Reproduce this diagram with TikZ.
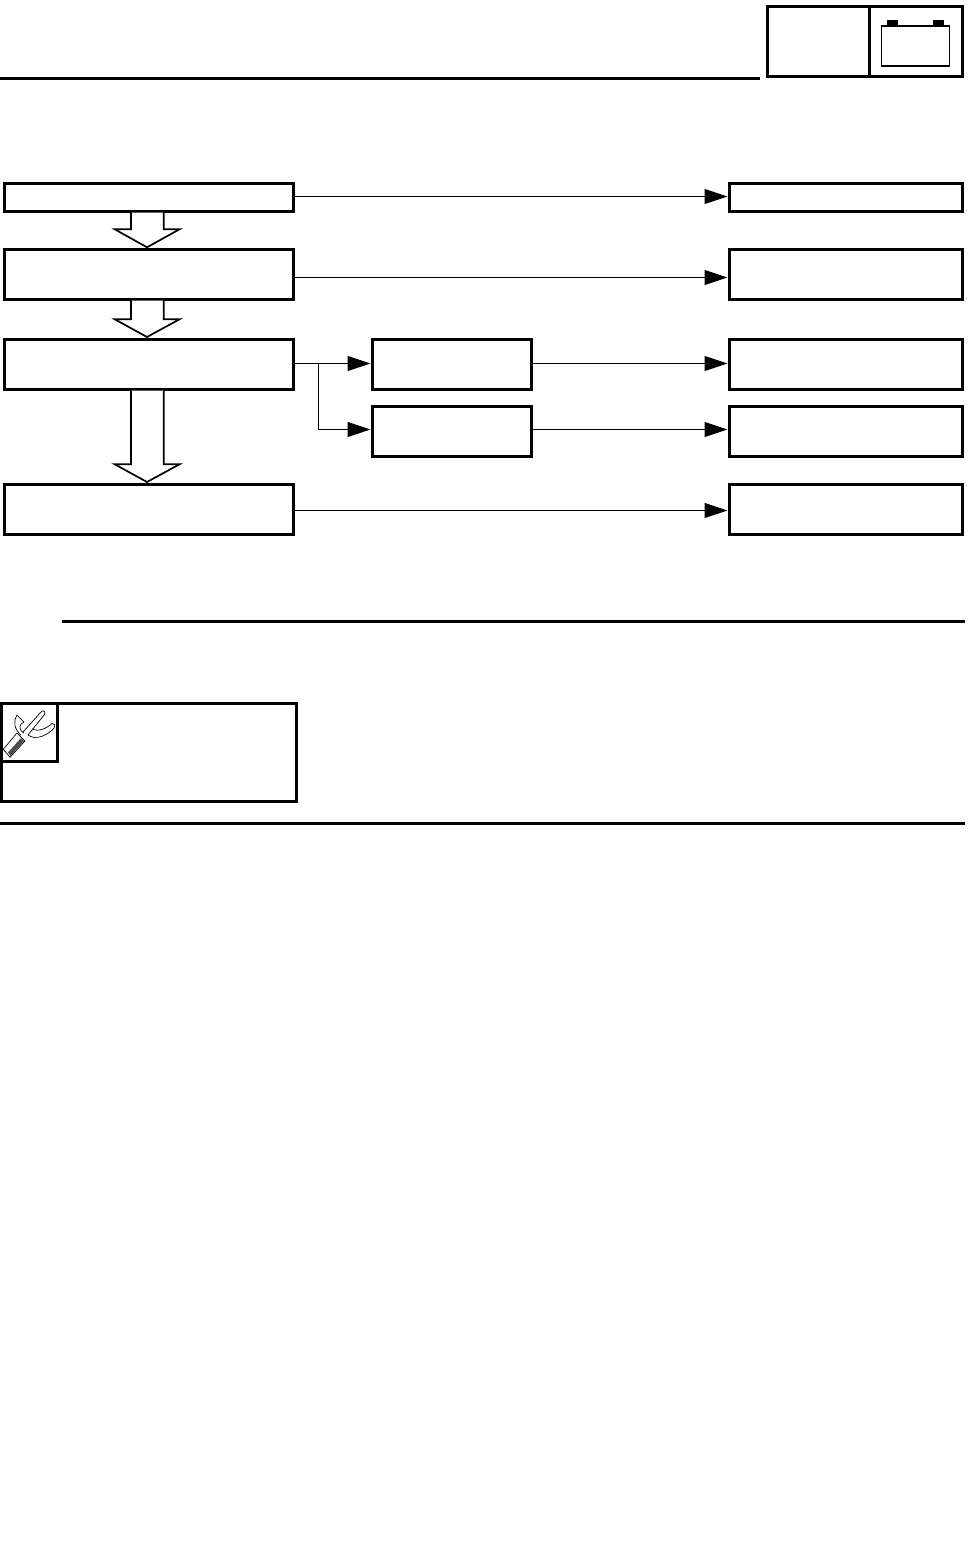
\documentclass[tikz,border=0pt]{standalone}
\usetikzlibrary{arrows.meta,calc}
\tikzset{
  flowbox/.style={draw=black,line width=3pt,fill=white,inner sep=0pt,outer sep=0pt,minimum width=#1},
  flowbox/.default=289.5pt,
  link/.style={draw=black,line width=1pt,-{Triangle[length=23pt,width=15pt]},shorten >=2pt},
  plainlink/.style={draw=black,line width=1pt},
  blockarrow/.style={draw=black,line width=1.7pt,fill=white,line join=miter},
  rule/.style={draw=black,line width=3pt},
  frame/.style={draw=black,line width=3pt},
}
\newcommand{\blockarr}[4]{%
  \draw[blockarrow] ([xshift=-17.75pt,yshift=-1.5pt]#1.south) -- ([xshift=-17.75pt,yshift=#3]#2.north)
    -- ([xshift=-34pt,yshift=#3]#2.north) -- ([xshift=-1.75pt,yshift=#4]#2.north)
    -- ([xshift=30.75pt,yshift=#3]#2.north) -- ([xshift=15pt,yshift=#3]#2.north)
    -- ([xshift=15pt,yshift=-1.5pt]#1.south);}
\begin{document}
\begin{tikzpicture}[x=1pt,y=-1pt]
\useasboundingbox (0,0) rectangle (973,1557);
% header
\draw[rule] (0,78.5) -- (760,78.5);
\draw[frame] (767.3,6.3) rectangle (962.5,76.8);
\draw[frame] (869,6.3) -- (869,76.8);
\draw[black,line width=1.5pt] (881.7,26) rectangle (949.5,66);
\fill[black] (887,20) rectangle (898,25.5);
\fill[black] (933,20) rectangle (944,25.5);
% left column
\node[flowbox,minimum height=27.5pt] (b1) at (148.75,197.25) {};
\node[flowbox,minimum height=49.5pt] (b2) at (148.75,274.25) {};
\node[flowbox,minimum height=49.5pt] (b3) at (148.75,364.25) {};
\node[flowbox,minimum height=50.5pt] (b4) at (148.75,509.25) {};
% middle column
\node[flowbox=159pt,minimum height=49.5pt] (m1) at (452,364.25) {};
\node[flowbox=159pt,minimum height=50pt] (m2) at (452,431) {};
% right column
\node[flowbox=233pt,minimum height=27.5pt] (r1) at (846,197.25) {};
\node[flowbox=233pt,minimum height=49.5pt] (r2) at (846,274.25) {};
\node[flowbox=233pt,minimum height=49.5pt] (r3) at (846,364.25) {};
\node[flowbox=233pt,minimum height=50pt] (r4) at (846,431) {};
\node[flowbox=233pt,minimum height=50.5pt] (r5) at (846,509.25) {};
% block arrows
\blockarr{b1}{b2}{20.2pt}{2.2pt}
\blockarr{b2}{b3}{20.2pt}{2.5pt}
\blockarr{b3}{b4}{19.7pt}{2pt}
% connectors
\draw[link] ([yshift=0.75pt]b1.east) -- ([yshift=0.75pt]r1.west);
\draw[link] ([yshift=-3.25pt]b2.east) -- ([yshift=-3.25pt]r2.west);
\draw[link] ([yshift=0.75pt]b3.east) -- ([yshift=0.75pt]m1.west);
\coordinate (branch) at ($(b3.east)+(25,-0.75)$);
\draw[plainlink] (branch) -- ++(0,66);
\draw[link] ([yshift=1.5pt]m2.west -| branch) -- ([yshift=1.5pt]m2.west);
\draw[link] ([yshift=0.75pt]m1.east) -- ([yshift=0.75pt]r3.west);
\draw[link] ([yshift=1.5pt]m2.east) -- ([yshift=1.5pt]r4.west);
\draw[link] ([yshift=-1.25pt]b4.east) -- ([yshift=-1.25pt]r5.west);
% rules
\draw[rule] (62,621.5) -- (965.3,621.5);
\draw[rule] (0,823.5) -- (965.3,823.5);
% tool box
\draw[frame] (1.3,703.5) rectangle (296,801.3);
\draw[frame] (1.3,703.5) rectangle (57.5,761.3);
% tool icon
\begin{scope}[line width=0.7pt,black,line join=round]
\draw (3.3,749.3) -- (17,733) -- (25,741) -- (10,757.3) -- cycle;
\fill[black!70] (8,752.5) -- (21,738) -- (24,741) -- (10.5,756) -- cycle;
\draw (23,732) -- (41,712) .. controls (43,709.5) and (46,711.5) .. (44.5,714.5)
  -- (28,735);
\draw (28,735) .. controls (36,741) and (48,735) .. (54,728)
  .. controls (56,725) and (54,723) .. (52,723.5)
  .. controls (46,729) and (38,732) .. (32,729);
\draw (21,735) .. controls (14,729) and (13,721) .. (17,715) -- (24,722) -- (21,724)
  .. controls (19,727) and (20,731) .. (24,733);
\end{scope}
\end{tikzpicture}
\end{document}
